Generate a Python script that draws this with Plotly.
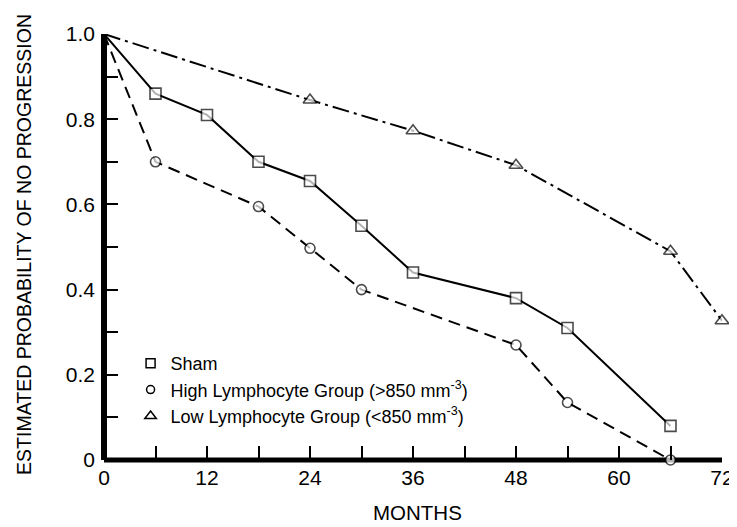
import plotly.graph_objects as go

# ---- data ----
months_sham = [0, 6, 12, 18, 24, 30, 36, 48, 54, 66]
prob_sham = [1.0, 0.86, 0.81, 0.70, 0.655, 0.55, 0.44, 0.38, 0.31, 0.08]

months_high = [0, 6, 18, 24, 30, 48, 54, 66]
prob_high = [1.0, 0.70, 0.595, 0.497, 0.40, 0.27, 0.135, 0.0]

months_low = [0, 24, 36, 48, 66, 72]
prob_low = [1.0, 0.845, 0.773, 0.692, 0.49, 0.327]

legend_names = [
    "Sham",
    "High Lymphocyte Group (&gt;850 mm<sup>-3</sup>)",
    "Low Lymphocyte Group (&lt;850 mm<sup>-3</sup>)",
]

x_ticks = [0, 12, 24, 36, 48, 60, 72]
x_labels = ["0", "12", "24", "36", "48", "60", "72"]
y_ticks = [0, 0.2, 0.4, 0.6, 0.8, 1.0]
y_labels = ["0", "0.2", "0.4", "0.6", "0.8", "1.0"]

FONT = "Liberation Sans, Arial, Helvetica, sans-serif"

series = [
    (months_sham, prob_sham, "square", "solid", 11),
    (months_high, prob_high, "circle", "12px,7px", 10),
    (months_low, prob_low, "triangle-up", "17px,5px,3px,5px", 12),
]

fig = go.Figure()
for (xs, ys, sym, dash, msize), name in zip(series, legend_names):
    sizes = [0] + [msize] * (len(xs) - 1)
    fig.add_trace(go.Scatter(
        x=xs, y=ys, mode="lines",
        line=dict(color="black", width=2, dash=dash),
        showlegend=False, cliponaxis=False, hoverinfo="skip",
    ))
    fig.add_trace(go.Scatter(
        x=xs, y=ys, mode="markers",
        marker=dict(symbol=sym, size=sizes, color="white",
                    line=dict(color="black", width=1.6)),
        showlegend=False, cliponaxis=False,
    ))

for (xs, ys, sym, dash, msize), name in zip(series, legend_names):
    fig.add_trace(go.Scatter(
        x=[None], y=[None], mode="markers", name=name, legendgroup=name,
        marker=dict(symbol=sym, size=msize - 2, color="white",
                    line=dict(color="black", width=1.5)),
    ))

tick_style = dict(ticks="inside", ticklen=14, tickwidth=1.5, tickcolor="black")

fig.update_layout(
    width=729, height=519,
    margin=dict(l=96, r=15, t=26, b=67),
    paper_bgcolor="white", plot_bgcolor="rgba(0,0,0,0)",
    showlegend=True,
    legend=dict(
        x=0.043, y=0.27, xanchor="left", yanchor="top",
        bgcolor="rgba(0,0,0,0)", font=dict(family=FONT, size=18, color="black"),
        tracegroupgap=0, itemsizing="trace",
    ),
    xaxis=dict(
        range=[0, 72], tickmode="array", tickvals=x_ticks, ticktext=x_labels,
        minor=dict(tickmode="linear", tick0=0, dtick=6, **tick_style),
        showline=False, automargin=False,
        showgrid=False, zeroline=False,
        tickfont=dict(family=FONT, size=21, color="black"),
        ticklabelstandoff=3,
        **tick_style,
    ),
    yaxis=dict(
        range=[0, 1.0], tickmode="array", tickvals=y_ticks, ticktext=y_labels,
        minor=dict(tickmode="linear", tick0=0, dtick=0.1, **tick_style),
        showline=False, automargin=False,
        showgrid=False, zeroline=False,
        tickfont=dict(family=FONT, size=21, color="black"),
        ticklabelstandoff=8,
        **tick_style,
    ),
    shapes=[
        dict(type="line", xref="paper", yref="paper", x0=0, x1=0, y0=0, y1=1,
             line=dict(color="black", width=6), layer="below"),
        dict(type="line", xref="paper", yref="paper", x0=0, x1=1, y0=0, y1=0,
             line=dict(color="black", width=5), layer="below"),
    ],
    annotations=[
        dict(text="ESTIMATED PROBABILITY OF NO PROGRESSION", xref="paper", yref="paper",
             x=-0.1294, y=0.505, xanchor="center", yanchor="middle", textangle=-90,
             showarrow=False, font=dict(family=FONT, size=19.5, color="black")),
        dict(text="MONTHS", xref="paper", yref="paper",
             x=0.508, y=-0.124, xanchor="center", yanchor="middle",
             showarrow=False, font=dict(family=FONT, size=20.5, color="black")),
    ],
)

fig.write_html("out.html")
